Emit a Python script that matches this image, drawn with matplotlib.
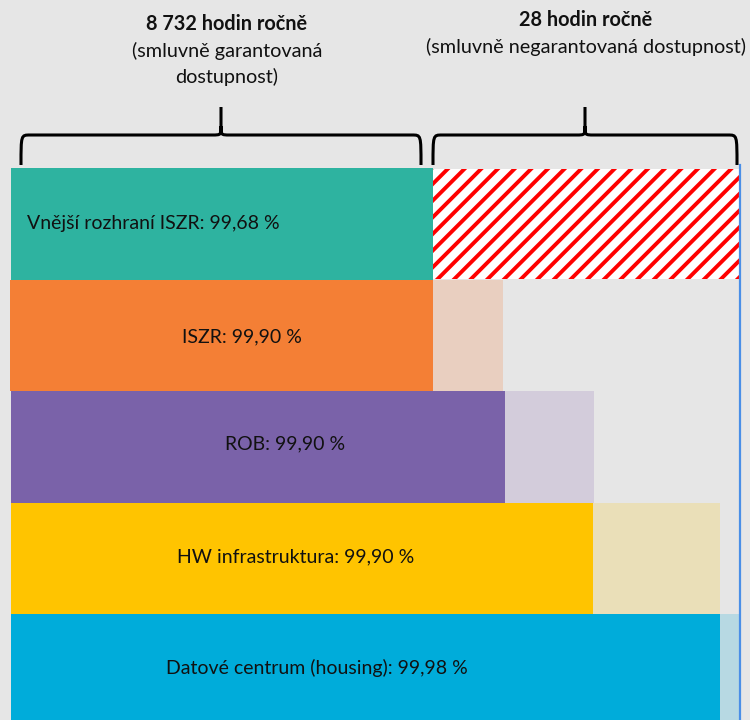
"""
Dostupnost vrstev ISZR - schema garantovane / negarantovane dostupnosti
"""
import matplotlib
matplotlib.use('Agg')
import matplotlib.pyplot as plt
from matplotlib.path import Path
from matplotlib.patches import PathPatch

plt.rcParams['font.family'] = ['Lato', 'DejaVu Sans']
plt.rcParams['hatch.linewidth'] = 2.8

# ============================================================
# Data
# ============================================================
layers = ["Vnější rozhraní ISZR", "ISZR", "ROB", "HW infrastruktura",
          "Datové centrum (housing)"]
availability = [99.68, 99.90, 99.90, 99.90, 99.98]

# schematic lengths of the bar segments (not to scale)
bar_start = [11, 10, 11, 11, 11]
guaranteed_end = [433, 433, 505, 593, 720]
outage_end = [739, 503, 594, 720, 739]

hours_guaranteed = 8732
hours_outage = 28

solid_colors = ['#2EB3A0', '#F47F35', '#7A62A9', '#FFC400', '#00ACDA']
light_colors = [None, '#E9CFC0', '#D3CCDB', '#EADFB8', '#B7D9E3']
label_x = [153, 242, 285, 296, 317]
label_dy = [0, 2, -3, -1, -2]

BG = '#E6E6E6'
FS = 14

# ============================================================
# Figure
# ============================================================
fig = plt.figure(figsize=(7.5, 7.2), dpi=100, facecolor=BG)
ax = fig.add_axes([0, 0, 1, 1])
ax.set_facecolor(BG)
ax.set_xlim(0, 750)
ax.set_ylim(720, 0)
ax.axis('off')

row_top = 168
row_h = 111.5
centers = [row_top + row_h * (i + 0.5) for i in range(len(layers))]

for i in range(len(layers)):
    y = centers[i]
    ax.barh(y, guaranteed_end[i] - bar_start[i], left=bar_start[i], height=row_h,
            color=solid_colors[i], linewidth=0, zorder=2)
    if i == 0:
        ax.barh(y, outage_end[i] - guaranteed_end[i], left=guaranteed_end[i],
                height=row_h - 2, color='white', edgecolor='#FF0000', hatch='//',
                linewidth=0, zorder=2)
    else:
        ax.barh(y, outage_end[i] - guaranteed_end[i], left=guaranteed_end[i],
                height=row_h, color=light_colors[i], linewidth=0, zorder=1)
    pct = f"{availability[i]:.2f}".replace('.', ',')
    ax.text(label_x[i], y + label_dy[i], f"{layers[i]}: {pct} %", ha='center',
            va='center', fontsize=FS, color='#111111', zorder=3)

# blue vertical line at the end of the year
ax.plot([739.5, 739.5], [165, 720], color='#4A8FE7', linewidth=1.6, zorder=4)


def brace(x0, x1, xm, y_tip=107, y_mid=135, y_end=165, r=9):
    verts = [(x0, y_end), (x0, y_mid), (x0, y_mid), (x0 + r, y_mid),
             (xm - r, y_mid), (xm, y_mid), (xm, y_mid), (xm, y_mid - r),
             (xm, y_tip),
             (xm, y_mid - r), (xm, y_mid), (xm, y_mid), (xm + r, y_mid),
             (x1 - r, y_mid), (x1, y_mid), (x1, y_mid), (x1, y_end)]
    codes = [Path.MOVETO, Path.CURVE4, Path.CURVE4, Path.CURVE4,
             Path.LINETO, Path.CURVE4, Path.CURVE4, Path.CURVE4,
             Path.LINETO,
             Path.MOVETO, Path.CURVE4, Path.CURVE4, Path.CURVE4,
             Path.LINETO, Path.CURVE4, Path.CURVE4, Path.CURVE4]
    ax.add_patch(PathPatch(Path(verts, codes), facecolor='none',
                           edgecolor='black', linewidth=2.2, zorder=5))


brace(21, 421, 221)
brace(433, 737, 585)

hg = f"{hours_guaranteed:,}".replace(',', ' ')
ax.text(227, 24, f"{hg} hodin ročně", ha='center', va='center',
        fontsize=FS + 0.3, fontweight='bold', color='#111111')
ax.text(227, 51, "(smluvně garantovaná", ha='center', va='center',
        fontsize=FS + 0.3, color='#111111')
ax.text(227, 77, "dostupnost)", ha='center', va='center',
        fontsize=FS + 0.3, color='#111111')

ax.text(586, 20, f"{hours_outage} hodin ročně", ha='center', va='center',
        fontsize=FS + 0.3, fontweight='bold', color='#111111')
ax.text(586, 47, "(smluvně negarantovaná dostupnost)", ha='center', va='center',
        fontsize=FS + 0.3, color='#111111')

plt.savefig('out.png', dpi=100, facecolor=BG)
